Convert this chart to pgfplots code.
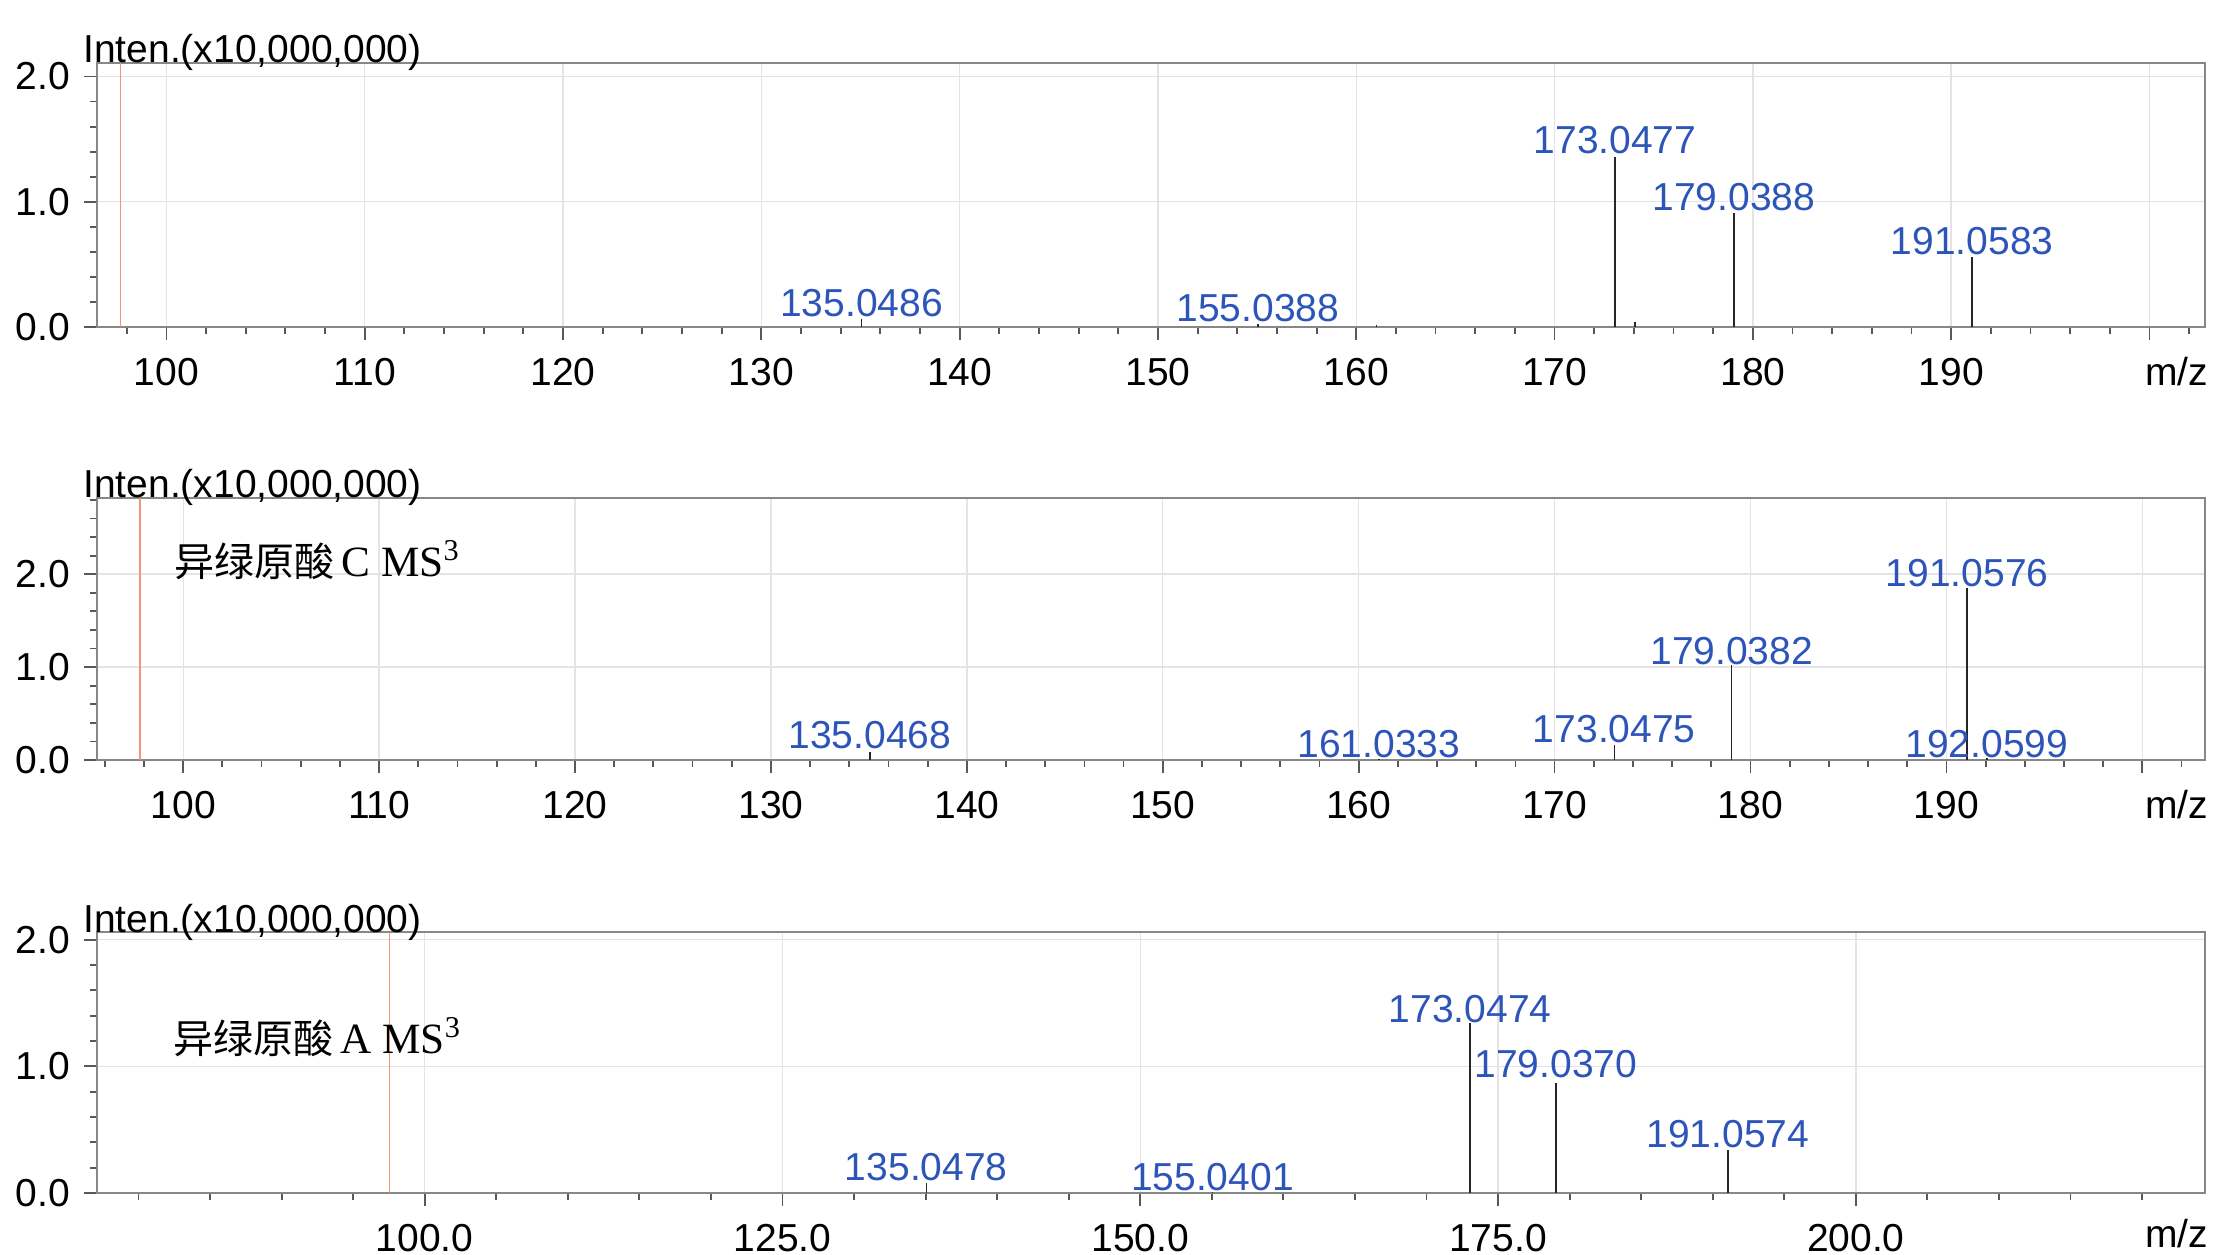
\documentclass[border=0pt]{standalone}
\usepackage{fontspec}
\setmainfont{Liberation Sans}
\newfontfamily\cjk{Noto Sans CJK SC}
\newfontfamily\serif{Liberation Serif}
\usepackage{pgfplots}
\pgfplotsset{compat=1.18}

\definecolor{pk}{RGB}{45,85,185}
\definecolor{framec}{RGB}{135,135,135}
\definecolor{gridc}{RGB}{228,228,228}
\definecolor{prec}{RGB}{240,150,120}

\newcommand{\lbl}{\fontsize{9.75}{11}\selectfont}

\tikzset{pl/.style={anchor=south, inner sep=0pt, font=\lbl, text=pk, yshift=0.4pt}}
\pgfplotsset{
  ms/.style={
    width=527pt, scale only axis, anchor=south west,
    axis line style={framec, line width=0.6pt},
    tick style={black!65, line width=0.45pt},
    tick align=outside, major tick length=3.25pt, minor tick length=1.75pt,
    xtick pos=lower, ytick pos=left,
    grid=major, major grid style={gridc, line width=0.35pt},
    ticklabel style={font=\lbl},
    xticklabel style={yshift=-1pt},
    /pgf/number format/assume math mode=true,
    yticklabel style={/pgf/number format/.cd, fixed, fixed zerofill, precision=1},
    ytick={0,1,2},
    ymin=0, clip=false,
  },
  stem/.style={ycomb, black!85, line width=0.4pt, mark=none},
}

\begin{document}
\begin{tikzpicture}
\useasboundingbox (0,0) rectangle (553.75pt,313.5pt);

% ---------- top panel ----------
\begin{axis}[ms, at={(24.25pt,231.75pt)}, height=66pt,
  xmin=96.5, xmax=202.8, ymax=2.108,
  xtick={100,110,...,200}, xticklabels={100,110,120,130,140,150,160,170,180,190,},
  minor xtick={96,98,...,202},
  minor ytick={0.2,0.4,0.6,0.8,1.2,1.4,1.6,1.8}]
\addplot[prec, line width=0.35pt] coordinates {(97.7,0) (97.7,2.108)};
\addplot[stem] coordinates {(135.0486,0.06) (155.0388,0.02) (161.03,0.015) (173.0477,1.36) (174.05,0.04) (179.0388,0.91) (191.0583,0.56)};
\node[pl] at (axis cs:135.0486,0.06) {135.0486};
\node[pl] at (axis cs:155.0388,0.02) {155.0388};
\node[pl] at (axis cs:173.0477,1.36) {173.0477};
\node[pl] at (axis cs:179.0388,0.91) {179.0388};
\node[pl] at (axis cs:191.0583,0.56) {191.0583};
\node[anchor=base west, inner sep=0pt, font=\lbl] at ([xshift=-3.6pt]rel axis cs:0,1) {Inten.(x10,000,000)};
\node[anchor=base east, inner sep=0pt, font=\lbl] at ([xshift=1pt,yshift=-14.6pt]rel axis cs:1,0) {m/z};
\end{axis}

% ---------- middle panel ----------
\begin{axis}[ms, at={(24.25pt,123.5pt)}, height=65.5pt,
  xmin=95.6, xmax=203.2, ymax=2.82,
  xtick={100,110,...,200}, xticklabels={100,110,120,130,140,150,160,170,180,190,},
  minor xtick={96,98,...,202},
  minor ytick={0.2,0.4,0.6,0.8,1.2,1.4,1.6,1.8,2.2,2.4,2.6,2.8}]
\addplot[prec, line width=0.35pt] coordinates {(97.8,0) (97.8,2.82)};
\addplot[stem] coordinates {(135.0468,0.09) (161.0333,0.01) (173.0475,0.16) (179.0382,1.02) (191.0576,1.85) (192.0599,0.02)};
\node[pl] at (axis cs:135.0468,0.09) {135.0468};
\node[pl] at (axis cs:161.0333,0.0) {161.0333};
\node[pl] at (axis cs:173.0475,0.16) {173.0475};
\node[pl] at (axis cs:179.0382,1.0) {179.0382};
\node[pl] at (axis cs:191.0576,1.84) {191.0576};
\node[pl] at (axis cs:192.0599,0.0) {192.0599};
\node[anchor=west, inner sep=0pt] at ([xshift=19.25pt,yshift=50pt]rel axis cs:0,0)
  {{\cjk\fontsize{10}{12}\selectfont 异绿原酸}\,{\serif\fontsize{10.8}{12}\selectfont C MS\textsuperscript{3}}};
\node[anchor=base west, inner sep=0pt, font=\lbl] at ([xshift=-3.6pt]rel axis cs:0,1) {Inten.(x10,000,000)};
\node[anchor=base east, inner sep=0pt, font=\lbl] at ([xshift=1pt,yshift=-14.6pt]rel axis cs:1,0) {m/z};
\end{axis}

% ---------- bottom panel ----------
\begin{axis}[ms, at={(24.25pt,15.25pt)}, height=65.25pt,
  xmin=77.1, xmax=224.4, ymax=2.06,
  xtick={100,125,150,175,200},
  xticklabel style={/pgf/number format/.cd, fixed, fixed zerofill, precision=1},
  minor xtick={80,85,...,220},
  minor ytick={0.2,0.4,0.6,0.8,1.2,1.4,1.6,1.8}]
\addplot[prec, line width=0.35pt] coordinates {(97.55,0) (97.55,2.06)};
\addplot[stem] coordinates {(135.0478,0.08) (155.0401,0.01) (173.0474,1.34) (179.0370,0.87) (191.0574,0.34)};
\node[pl] at (axis cs:135.0478,0.08) {135.0478};
\node[pl] at (axis cs:155.0401,0.0) {155.0401};
\node[pl] at (axis cs:173.0474,1.32) {173.0474};
\node[pl] at (axis cs:179.0370,0.89) {179.0370};
\node[pl] at (axis cs:191.0574,0.34) {191.0574};
\node[anchor=west, inner sep=0pt] at ([xshift=19pt,yshift=39pt]rel axis cs:0,0)
  {{\cjk\fontsize{10}{12}\selectfont 异绿原酸}\,{\serif\fontsize{10.8}{12}\selectfont A MS\textsuperscript{3}}};
\node[anchor=base west, inner sep=0pt, font=\lbl] at ([xshift=-3.6pt]rel axis cs:0,1) {Inten.(x10,000,000)};
\node[anchor=base east, inner sep=0pt, font=\lbl] at ([xshift=1pt,yshift=-13.6pt]rel axis cs:1,0) {m/z};
\end{axis}
\end{tikzpicture}
\end{document}
